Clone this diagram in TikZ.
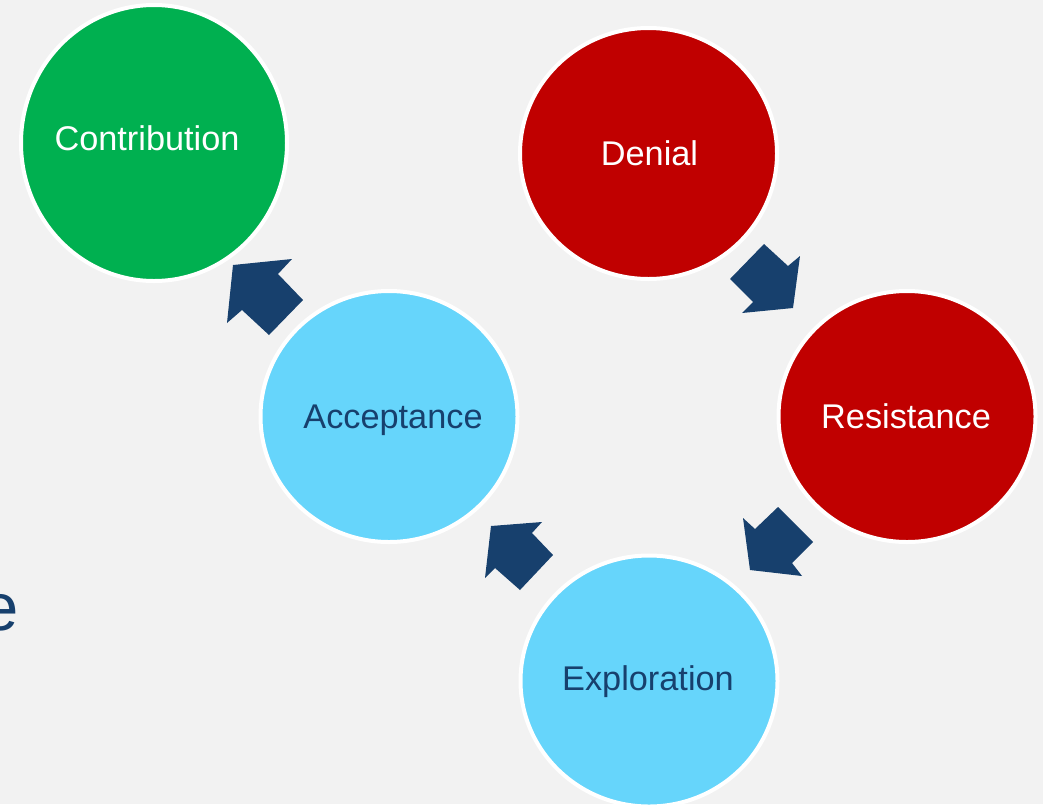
\documentclass[tikz,border=0pt]{standalone}
\usepackage{fontspec}
\setmainfont{Liberation Sans}
\usetikzlibrary{shapes.geometric}
\definecolor{bg}{HTML}{F2F2F2}
\definecolor{cgreen}{HTML}{00B050}
\definecolor{cred}{HTML}{C00000}
\definecolor{clight}{HTML}{66D5FB}
\definecolor{cnavy}{HTML}{17406D}
\begin{document}
\begin{tikzpicture}[x=1pt,y=-1pt,
  stage/.style={ellipse, draw=white, line width=4pt, inner sep=0pt},
  bigstage/.style={stage, minimum width=266pt, minimum height=276pt},
  smallstage/.style={stage, minimum width=257pt, minimum height=251pt},
  lbl/.style={anchor=base, inner sep=0pt, font=\fontsize{34.3}{40}\selectfont},
  blockarr/.style={fill=cnavy, draw=none}]
\fill[bg] (0,0) rectangle (1043,804);
\useasboundingbox (0,0) rectangle (1043,804);
% stages
\node[bigstage, fill=cgreen] (contrib) at (154,143) {};
\node[smallstage, fill=cred] (denial) at (648.5,153.5) {};
\node[smallstage, fill=cred] (resist) at (907,416.5) {};
\node[smallstage, fill=clight] (accept) at (389,416.5) {};
\node[smallstage, fill=clight] (explore) at (649,681) {};
% labels
\node[lbl, text=white] (contribT) at (147,150) {Contribution};
\node[lbl, text=white] (denialT) at (649.5,165) {Denial};
\node[lbl, text=white] (resistT) at (906,428) {Resistance};
\node[lbl, text=cnavy] (acceptT) at (393,428) {Acceptance};
\node[lbl, text=cnavy] (exploreT) at (648,690) {Exploration};
% cut-off title letter at the left edge (cut off in the reference too)
\node[anchor=base west, inner sep=0pt, text=cnavy, font=\fontsize{67}{80}\selectfont] (etail) at (-18.4,630) {e};
% block arrows
\fill[blockarr] (764,244) -- (730,279) -- (753,302) -- (742,313) -- (793,308) -- (800,256) -- (788,266) -- cycle;
\fill[blockarr] (778,507) -- (813,542) -- (792,563) -- (802,576) -- (750,570) -- (743,518) -- (755,529) -- cycle;
\fill[blockarr] (553,555) -- (520,590) -- (495,568) -- (485,578) -- (491,526) -- (542,522) -- (532,533) -- cycle;
\fill[blockarr] (303,300) -- (269,335) -- (242,310) -- (227,323) -- (233,265) -- (292,259) -- (278,274) -- cycle;
\end{tikzpicture}
\end{document}
